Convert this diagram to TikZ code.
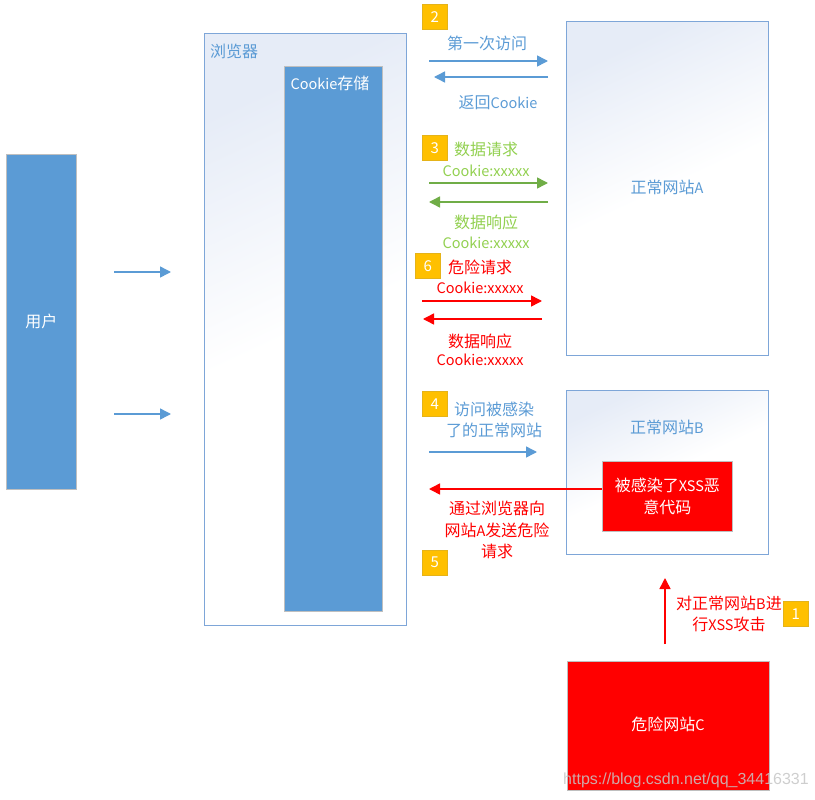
\documentclass[tikz,border=0pt]{standalone}
\usepackage{fontspec}
\setmainfont{Noto Sans CJK SC}
\newfontfamily\wmfont{Liberation Sans}
\usetikzlibrary{arrows.meta}
\definecolor{cblue}{HTML}{5B9BD5}
\definecolor{cborder}{HTML}{7EA6D8}
\definecolor{cgrad}{HTML}{E6ECF7}
\definecolor{cgreen}{HTML}{70AD47}
\definecolor{cgtext}{HTML}{92D050}
\definecolor{cred}{HTML}{FF0000}
\definecolor{corange}{HTML}{FFC000}
\definecolor{cgray}{HTML}{BFBFBF}
\newcommand\lat[1]{{\fontsize{14.5}{21.5}\selectfont #1}}
\tikzset{
  fillbox/.style={draw=cgray, line width=0.8pt, fill=cblue, anchor=north west, inner sep=0pt, text=white},
  redbox/.style={draw=cgray, line width=0.8pt, fill=cred, anchor=north west, inner sep=0pt, text=white, align=center},
  sitebox/.style={draw=cborder, line width=1pt, top color=cgrad, bottom color=white, middle color=white, shading angle=25, anchor=north west, inner sep=0pt},
  badge/.style={fill=corange, draw=corange!80!gray, line width=0.4pt, minimum width=25pt, minimum height=25pt, anchor=north west, inner sep=0pt, text=white, font=\fontsize{15}{18}\selectfont},
  lbl/.style={inner sep=0pt, align=center},
  arr/.style={line width=1.5pt, -{Triangle[length=11pt,width=11pt]}},
}
\begin{document}
\begin{tikzpicture}[x=1pt,y=-1pt, font=\fontsize{16}{21.5}\selectfont]
\useasboundingbox (0,0) rectangle (815,800);

% user
\node[fillbox, minimum width=70pt, minimum height=335pt] (user) at (6,154) {用户};
\coordinate (u1a) at (114,272); \coordinate (u1b) at (171,272);
\coordinate (u2a) at (114,414); \coordinate (u2b) at (171,414);
\draw[arr, cblue] (u1a) -- (u1b);
\draw[arr, cblue] (u2a) -- (u2b);

% browser
\node[sitebox, minimum width=202pt, minimum height=592pt] (browser) at (204,33) {};
\node[lbl, text=cblue, anchor=west] (browsertxt) at (210,51) {浏览器};
\node[fillbox, minimum width=98pt, minimum height=545pt] (cookie) at (284,66) {};
\node[lbl, text=white] (cookietxt) at (330,83) {\lat{Cookie}存储};

% site A
\node[sitebox, minimum width=202pt, minimum height=334pt] (siteA) at (566,21) {};
\node[lbl, text=cblue] (siteAtxt) at (667,187) {正常网站\lat{A}};

% site B
\node[sitebox, minimum width=202pt, minimum height=164pt] (siteB) at (566,390) {};
\node[lbl, text=cblue] (siteBtxt) at (667,427) {正常网站\lat{B}};
\node[redbox, minimum width=130pt, minimum height=70pt] (infected) at (602,461) {被感染了\lat{XSS}恶\\意代码};

% site C
\node[redbox, minimum width=202pt, minimum height=129pt] (siteC) at (567,661) {};
\node[lbl, text=white] (siteCtxt) at (668,724) {危险网站\lat{C}};

% attack arrow
\coordinate (atka) at (665,644); \coordinate (atkb) at (665,578);
\draw[arr, cred] (atka) -- (atkb);
\node[lbl, text=cred] (atktxt) at (729,614) {对正常网站\lat{B}进\\行\lat{XSS}攻击};

% badges
\node[badge] (b1) at (783,601) {1};
\node[badge] (b2) at (422,4) {2};
\node[badge] (b3) at (422,135) {3};
\node[badge] (b6) at (415,253) {6};
\node[badge] (b4) at (422,391) {4};
\node[badge] (b5) at (422,550) {5};

% step 2
\node[lbl, text=cblue] (t2a) at (487,43) {第一次访问};
\coordinate (s2a) at (429,61); \coordinate (s2b) at (548,61);
\draw[arr, cblue] (s2a) -- (s2b);
\coordinate (s2c) at (548,77); \coordinate (s2d) at (434,77);
\draw[arr, cblue] (s2c) -- (s2d);
\node[lbl, text=cblue] (t2b) at (498,103) {返回\lat{Cookie}};

% step 3
\node[lbl, text=cgtext] (t3a) at (486,149) {数据请求};
\node[lbl, text=cgtext] (t3b) at (486,171) {\lat{Cookie:xxxxx}};
\coordinate (s3a) at (429,183); \coordinate (s3b) at (548,183);
\draw[arr, cgreen] (s3a) -- (s3b);
\coordinate (s3c) at (548,202); \coordinate (s3d) at (429,202);
\draw[arr, cgreen] (s3c) -- (s3d);
\node[lbl, text=cgtext] (t3c) at (486,222) {数据响应};
\node[lbl, text=cgtext] (t3d) at (486,243) {\lat{Cookie:xxxxx}};

% step 6
\node[lbl, text=cred] (t6a) at (480,267) {危险请求};
\node[lbl, text=cred] (t6b) at (480,288) {\lat{Cookie:xxxxx}};
\coordinate (s6a) at (422,301); \coordinate (s6b) at (542,301);
\draw[arr, cred] (s6a) -- (s6b);
\coordinate (s6c) at (542,319); \coordinate (s6d) at (423,319);
\draw[arr, cred] (s6c) -- (s6d);
\node[lbl, text=cred] (t6c) at (480,341) {数据响应};
\node[lbl, text=cred] (t6d) at (480,360) {\lat{Cookie:xxxxx}};

% step 4
\node[lbl, text=cblue] (t4) at (494,420) {访问被感染\\了的正常网站};
\coordinate (s4a) at (429,452); \coordinate (s4b) at (537,452);
\draw[arr, cblue] (s4a) -- (s4b);

% step 5
\coordinate (s5d) at (429,489);
\draw[arr, cred] (infected.west |- s5d) -- (s5d);
\node[lbl, text=cred] (t5) at (497,530) {通过浏览器向\\网站\lat{A}发送危险\\请求};

% watermark
\node[lbl, text=gray!45, opacity=0.85, font=\wmfont\fontsize{16}{18}\selectfont] (wm) at (686,780) {https://blog.csdn.net/qq\_34416331};
\end{tikzpicture}
\end{document}
